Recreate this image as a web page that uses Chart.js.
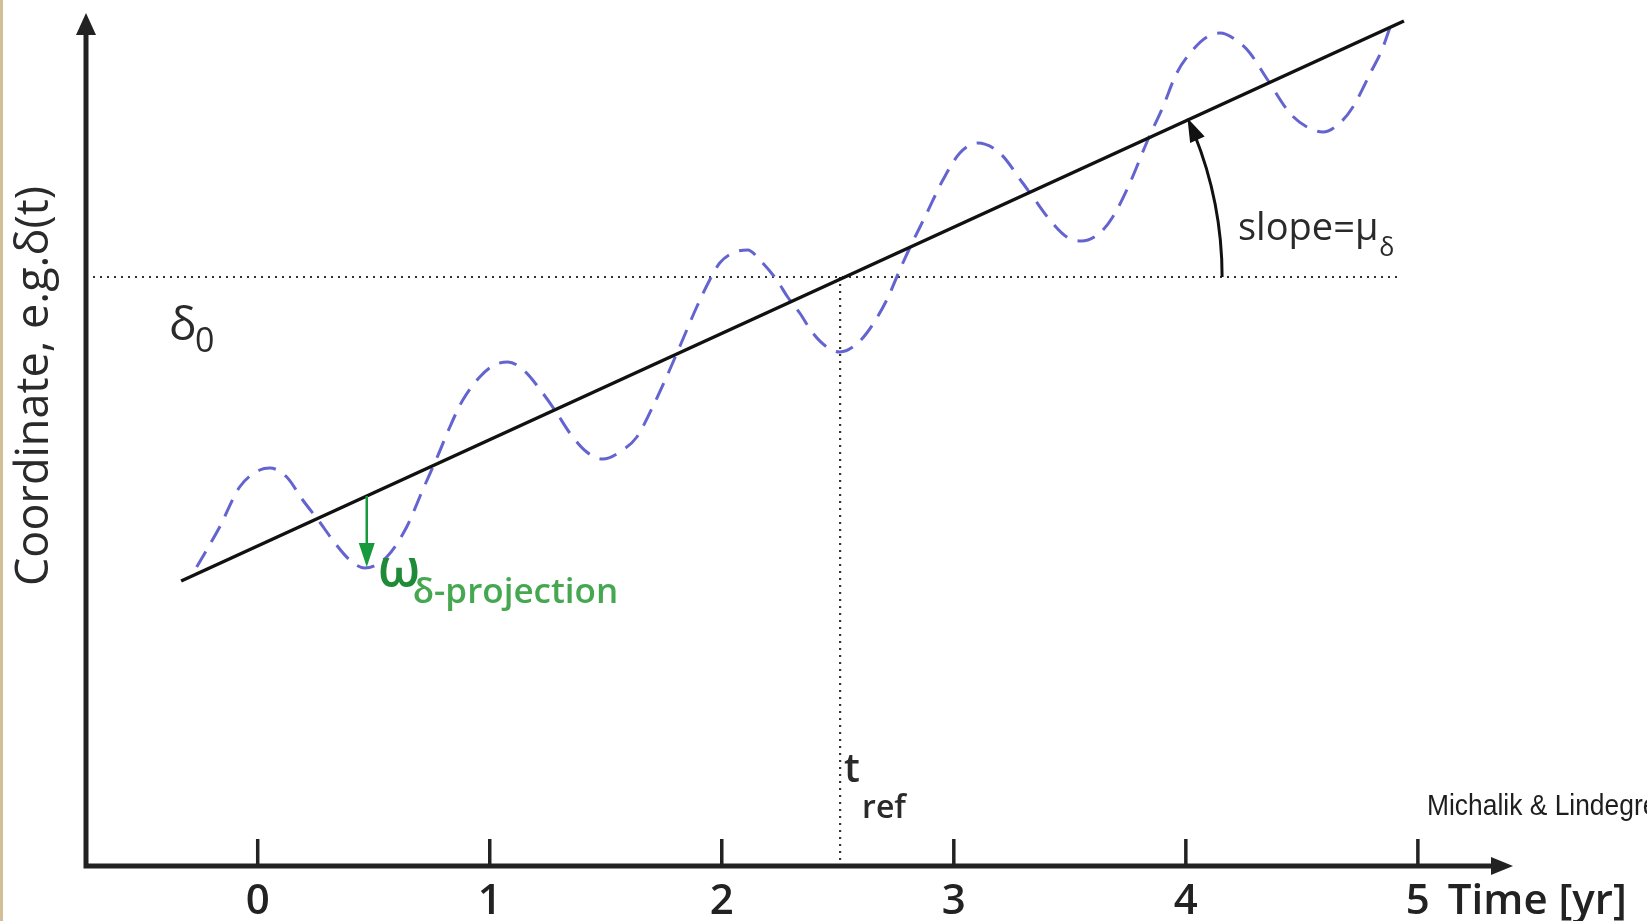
<!DOCTYPE html>
<html>
<head>
<meta charset="utf-8">
<script src="https://cdn.jsdelivr.net/npm/chart.js@4.4.1/dist/chart.umd.min.js"></script>
<style>
  html, body { margin: 0; padding: 0; background: #fff; overflow: hidden; }
  #wrap { width: 1647px; height: 921px; position: relative; }
</style>
</head>
<body>
<div id="wrap"><canvas id="c" width="1647" height="921"></canvas></div>
<script>
// Time axis (years) and coordinate axis (arbitrary units)
const tickValues = [0, 1, 2, 3, 4, 5];
const tickLabels = ['0', '1', '2', '3', '4', '5'];
const timeRange = [-0.74, 5.41];
const coordRange = [0, 8.53];

// Reference epoch and reference position
const tRef = 2.51;
const delta0 = 5.89;
const refLineEnd = 4.93;

// Linear proper-motion trend
const trendT = [-0.33, 4.94];
const trendY = [2.85, 8.45];

// Observed coordinate: trend plus parallactic wobble
const waveT = [
  -0.263, -0.164, -0.078, 0.009, 0.052, 0.125, 0.194, 0.267, 0.323, 0.397,
  0.461, 0.556, 0.642, 0.711, 0.772, 0.828, 0.884, 0.957, 1.020, 1.078,
  1.150, 1.228, 1.289, 1.345, 1.418, 1.487, 1.573, 1.634, 1.700, 1.760,
  1.820, 1.892, 1.948, 1.991, 2.047, 2.112, 2.164, 2.237, 2.284, 2.336,
  2.392, 2.453, 2.509, 2.565, 2.625, 2.711, 2.767, 2.810, 2.884, 2.953,
  3.026, 3.103, 3.198, 3.297, 3.341, 3.414, 3.487, 3.550, 3.629, 3.685,
  3.759, 3.836, 3.901, 3.961, 4.030, 4.091, 4.147, 4.233, 4.276, 4.353,
  4.448, 4.522, 4.591, 4.664, 4.720, 4.802, 4.845, 4.879
];
const waveY = [
  2.99, 3.39, 3.79, 3.96, 3.98, 3.89, 3.66, 3.44, 3.26, 3.06,
  2.98, 3.09, 3.39, 3.76, 4.08, 4.39, 4.66, 4.89, 5.01, 5.04,
  4.95, 4.73, 4.53, 4.33, 4.14, 4.07, 4.16, 4.29, 4.58, 4.88,
  5.20, 5.59, 5.86, 6.03, 6.13, 6.16, 6.06, 5.86, 5.69, 5.53,
  5.33, 5.19, 5.14, 5.19, 5.33, 5.66, 5.96, 6.18, 6.53, 6.86,
  7.13, 7.23, 7.13, 6.83, 6.69, 6.46, 6.29, 6.25, 6.33, 6.49,
  6.83, 7.26, 7.59, 7.93, 8.16, 8.29, 8.33, 8.23, 8.13, 7.86,
  7.53, 7.39, 7.34, 7.43, 7.59, 7.96, 8.16, 8.38
];

// Projection arrow (from trend down to the wobble)
const projT = 0.47;
const projY = [3.70, 2.99];

const pts = (xs, ys) => xs.map((x, i) => ({ x: x, y: ys[i] }));

const FONT = '"Open Sans", "DejaVu Sans", sans-serif';

function arrowHead(ctx, tipX, tipY, dx, dy, len, half) {
  const n = Math.hypot(dx, dy);
  const ux = dx / n, uy = dy / n;
  const bx = tipX - ux * len, by = tipY - uy * len;
  ctx.beginPath();
  ctx.moveTo(tipX, tipY);
  ctx.lineTo(bx - uy * half, by + ux * half);
  ctx.lineTo(bx + uy * half, by - ux * half);
  ctx.closePath();
  ctx.fill();
}

const decor = {
  id: 'decor',
  beforeDraw(chart) {
    const ctx = chart.ctx;
    ctx.save();
    ctx.fillStyle = '#ffffff';
    ctx.fillRect(0, 0, chart.width, chart.height);
    ctx.fillStyle = '#d3bf95';
    ctx.fillRect(0, 0, 3, chart.height);
    ctx.restore();
  },
  afterDatasetsDraw(chart) {
    const ctx = chart.ctx;
    const xs = chart.scales.x, ys = chart.scales.y;
    const x0 = xs.getPixelForValue(timeRange[0]);
    const x1 = xs.getPixelForValue(timeRange[1]);
    const yb = ys.getPixelForValue(coordRange[0]);
    const yt = ys.getPixelForValue(coordRange[1]);
    ctx.save();

    // axes with arrows
    ctx.strokeStyle = '#222';
    ctx.fillStyle = '#222';
    ctx.lineWidth = 5;
    ctx.lineCap = 'butt';
    ctx.beginPath();
    ctx.moveTo(x0, yb + 2.5);
    ctx.lineTo(x0, yt + 18);
    ctx.moveTo(x0 - 2.5, yb);
    ctx.lineTo(x1 - 18, yb);
    ctx.stroke();
    arrowHead(ctx, x0, yt, 0, -1, 22, 10);
    arrowHead(ctx, x1, yb, 1, 0, 22, 9);

    // tick marks and tick labels
    ctx.lineWidth = 3.5;
    ctx.font = '600 42px ' + FONT;
    ctx.textAlign = 'center';
    ctx.textBaseline = 'alphabetic';
    tickValues.forEach((v, i) => {
      const px = xs.getPixelForValue(v);
      ctx.beginPath();
      ctx.moveTo(px, yb);
      ctx.lineTo(px, yb - 27);
      ctx.stroke();
      ctx.fillText(tickLabels[i], px, yb + 48);
    });
    const px5 = xs.getPixelForValue(tickValues[tickValues.length - 1]);
    ctx.textAlign = 'left';
    ctx.fillText('Time [yr]', px5 + 30, yb + 48);

    // y axis title
    ctx.save();
    ctx.translate(48, 386);
    ctx.rotate(-Math.PI / 2);
    ctx.font = '400 45px ' + FONT;
    ctx.fillStyle = '#2a2a2a';
    ctx.textAlign = 'center';
    ctx.fillText('Coordinate, e.g.\u03b4(t)', 0, 0);
    ctx.restore();

    // delta_0 label
    ctx.fillStyle = '#2a2a2a';
    ctx.textAlign = 'left';
    ctx.font = '400 46px ' + FONT;
    ctx.fillText('\u03b4', 169, 340);
    ctx.font = '400 34px ' + FONT;
    ctx.fillText('0', 195, 352);

    // t_ref label
    const pxRef = xs.getPixelForValue(tRef);
    ctx.font = '600 40px ' + FONT;
    ctx.fillText('t', pxRef + 4, 782);
    ctx.font = '600 32px ' + FONT;
    ctx.fillText('ref', pxRef + 22, 818);

    // slope arc with arrow
    const cx = pxRef, cy = ys.getPixelForValue(delta0);
    const lx0 = xs.getPixelForValue(trendT[0]), ly0 = ys.getPixelForValue(trendY[0]);
    const lx1 = xs.getPixelForValue(trendT[1]), ly1 = ys.getPixelForValue(trendY[1]);
    const ang = Math.atan2(ly1 - ly0, lx1 - lx0);
    const r = 382;
    const endAng = ang + 0.045;
    ctx.strokeStyle = '#111';
    ctx.fillStyle = '#111';
    ctx.lineWidth = 3;
    ctx.beginPath();
    ctx.arc(cx, cy, r, 0, endAng, true);
    ctx.stroke();
    const tipX = cx + r * Math.cos(ang), tipY = cy + r * Math.sin(ang);
    arrowHead(ctx, tipX, tipY, Math.sin(ang), -Math.cos(ang), 24, 8);

    // slope label
    ctx.fillStyle = '#2a2a2a';
    ctx.font = '400 38px ' + FONT;
    const sTxt = 'slope=\u03bc';
    ctx.fillText(sTxt, 1238, 240);
    const sw = ctx.measureText(sTxt).width;
    ctx.font = '400 25px ' + FONT;
    ctx.fillText('\u03b4', 1238 + sw + 1, 256);

    // projection arrow and label
    const gx = xs.getPixelForValue(projT);
    const gy0 = ys.getPixelForValue(projY[0]);
    const gy1 = ys.getPixelForValue(projY[1]);
    ctx.strokeStyle = '#179a3c';
    ctx.fillStyle = '#179a3c';
    ctx.lineWidth = 2.5;
    ctx.beginPath();
    ctx.moveTo(gx, gy0);
    ctx.lineTo(gx, gy1 - 16);
    ctx.stroke();
    arrowHead(ctx, gx, gy1, 0, 1, 24, 8);

    ctx.fillStyle = '#1f8a38';
    ctx.font = '600 52px ' + FONT;
    ctx.fillText('\u03c9', gx + 11, 586);
    ctx.fillStyle = '#45a851';
    ctx.font = '600 35px ' + FONT;
    ctx.fillText('\u03b4-projection', gx + 46, 603);

    // credit
    ctx.save();
    ctx.translate(1427, 815);
    ctx.scale(0.88, 1);
    ctx.fillStyle = '#1e1e1e';
    ctx.font = '400 30px "Liberation Sans", Arial, sans-serif';
    ctx.fillText('Michalik & Lindegren', 0, 0);
    ctx.restore();

    ctx.restore();
  }
};

new Chart(document.getElementById('c'), {
  type: 'line',
  data: {
    datasets: [
      {
        label: 'trend',
        data: pts(trendT, trendY),
        borderColor: '#111',
        borderWidth: 3.5,
        pointRadius: 0,
        order: 0
      },
      {
        label: 'wobble',
        data: pts(waveT, waveY),
        borderColor: 'rgba(92, 92, 205, 0.95)',
        borderWidth: 3,
        borderDash: [18, 11],
        cubicInterpolationMode: 'monotone',
        pointRadius: 0,
        order: 1
      },
      {
        label: 'delta0',
        data: [{ x: timeRange[0], y: delta0 }, { x: refLineEnd, y: delta0 }],
        borderColor: '#333',
        borderWidth: 2.2,
        borderDash: [2, 5],
        pointRadius: 0,
        order: 2
      },
      {
        label: 'tref',
        data: [{ x: tRef, y: delta0 }, { x: tRef, y: coordRange[0] }],
        borderColor: '#333',
        borderWidth: 2.2,
        borderDash: [2, 5],
        pointRadius: 0,
        order: 2
      }
    ]
  },
  options: {
    responsive: false,
    animation: false,
    devicePixelRatio: 1,
    layout: { padding: { left: 86, right: 134, top: 13, bottom: 55 } },
    plugins: { legend: { display: false }, tooltip: { enabled: false } },
    scales: {
      x: { type: 'linear', min: timeRange[0], max: timeRange[1], display: false },
      y: { type: 'linear', min: coordRange[0], max: coordRange[1], display: false }
    }
  },
  plugins: [decor]
});
</script>
</body>
</html>
